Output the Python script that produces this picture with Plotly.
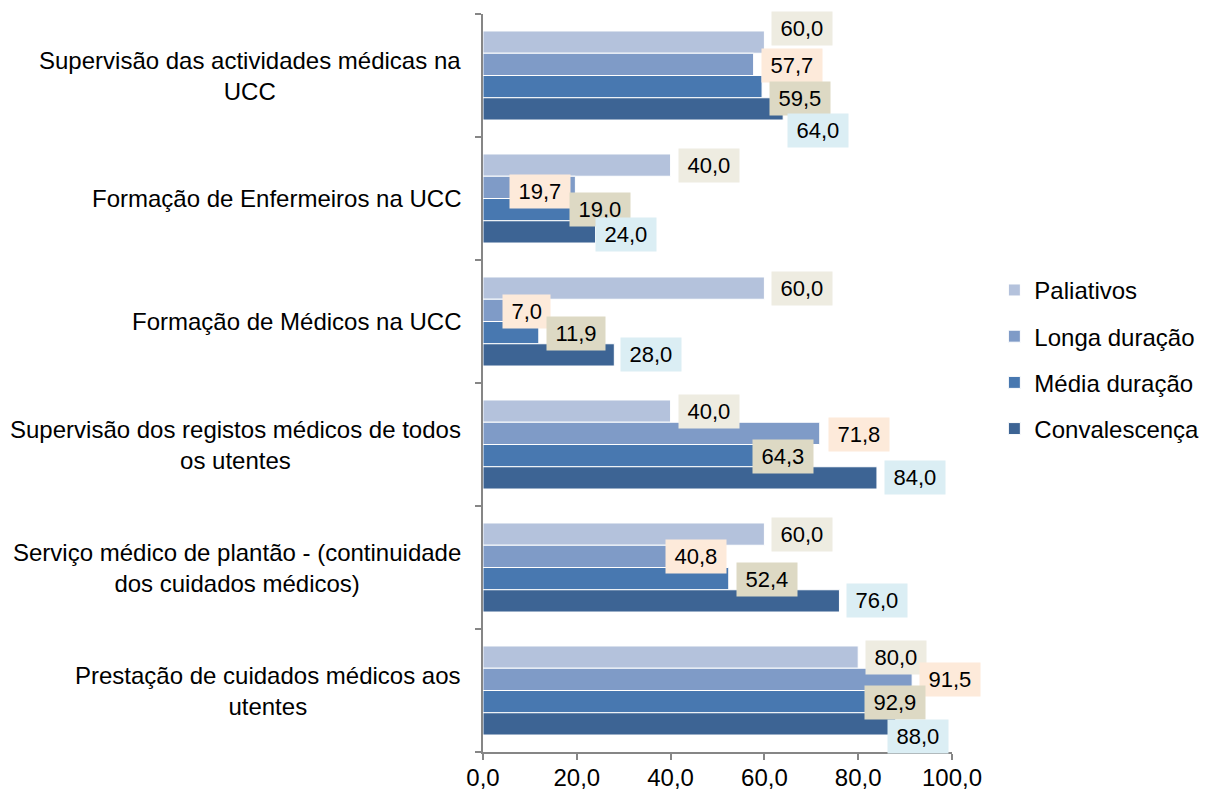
import plotly.graph_objects as go

categories = [
    "Supervisão das actividades médicas na<br>UCC",
    "Formação de Enfermeiros na UCC",
    "Formação de Médicos na UCC",
    "Supervisão dos registos médicos de todos<br>os utentes",
    "Serviço médico de plantão - (continuidade<br>dos cuidados médicos)",
    "Prestação de cuidados médicos aos<br>utentes",
]
series_names = ["Paliativos", "Longa duração", "Média duração", "Convalescença"]
paliativos = [60.0, 40.0, 60.0, 40.0, 60.0, 80.0]
longa = [57.7, 19.7, 7.0, 71.8, 40.8, 91.5]
media = [59.5, 19.0, 11.9, 64.3, 52.4, 92.9]
convalescenca = [64.0, 24.0, 28.0, 84.0, 76.0, 88.0]
x_ticks = [0, 20, 40, 60, 80, 100]
x_ticktext = ["0,0", "20,0", "40,0", "60,0", "80,0", "100,0"]

series_values = [paliativos, longa, media, convalescenca]
bar_colors = ["#B4C2DC", "#7F9BC7", "#4878B0", "#3D6494"]
label_bg = ["#EEECE1", "#FDEADA", "#DDD9C4", "#DBEEF4"]
# label offsets in px (dx: box left from bar end, dy: box centre below bar centre)
label_dx = [
    [7, 7, 7, 7, 7, 7],
    [7, -66, -14, 8, -9, 7],
    [7, -3, 7, -33, 7, -55],
    [4, -1, 6, 7, 7, -9],
]
label_dy = [
    [-14, 0, 0, 0, 0, 0],
    [1, 4, 1, 1, 0, 0],
    [12, 0, 1, 1, 1, 1],
    [22, 3, 0, 0, 0, 13],
]

FONT = "Liberation Sans, Arial, sans-serif"
FS = 24
FS_LABEL = 22
bargap = 0.276
n = len(series_names)

fig = go.Figure()
idx = list(range(len(categories)))
for j, (name, vals) in enumerate(zip(series_names, series_values)):
    fig.add_trace(go.Bar(
        y=idx, x=vals, name=name, orientation="h",
        marker=dict(color=bar_colors[j], line=dict(color="white", width=1)),
        legendgroup=name,
    ))

annotations = []
group_w = 1 - bargap
for j, vals in enumerate(series_values):
    off = -group_w / 2 + (j + 0.5) * group_w / n
    for k, v in enumerate(vals):
        annotations.append(dict(
            x=v, y=k + off, xref="x", yref="y",
            text="\u2009" + f"{v:.1f}".replace(".", ",") + "\u2009",
            showarrow=False, xanchor="left", yanchor="middle",
            xshift=label_dx[j][k], yshift=-label_dy[j][k],
            bgcolor=label_bg[j], borderpad=4,
            font=dict(family=FONT, size=FS_LABEL, color="black"),
        ))

for k, c in enumerate(categories):
    annotations.append(dict(
        x=0, y=k, xref="paper", yref="y", text=c, showarrow=False,
        xanchor="right", yanchor="middle", align="center", xshift=-20,
        font=dict(family=FONT, size=FS, color="black"),
    ))

fig.update_layout(
    width=1201, height=784,
    margin=dict(l=475, r=256, t=6, b=40),
    paper_bgcolor="white", plot_bgcolor="white",
    barmode="group", bargap=bargap, bargroupgap=0,
    font=dict(family=FONT, size=FS, color="black"),
    showlegend=True,
    legend=dict(
        x=1.088, y=0.532, xanchor="left", yanchor="middle",
        traceorder="grouped", tracegroupgap=12,
        font=dict(family=FONT, size=FS, color="black"),
        bgcolor="rgba(0,0,0,0)",
    ),
    annotations=annotations,
)
fig.update_xaxes(
    range=[0, 100], tickvals=x_ticks, ticktext=x_ticktext, automargin=False,
    showgrid=False, zeroline=False, showline=True, linecolor="#868686", linewidth=1.5,
    ticks="outside", ticklen=6, tickcolor="#868686", tickwidth=1.5,
    ticklabelstandoff=-3,
    tickfont=dict(family=FONT, size=FS, color="black"),
)
fig.update_yaxes(
    range=[len(categories) - 0.5, -0.5], tickvals=[k + 0.5 for k in range(-1, len(categories))],
    showticklabels=False, automargin=False,
    showgrid=False, zeroline=False, showline=True, linecolor="#868686", linewidth=1.5,
    ticks="outside", ticklen=6, tickcolor="#868686", tickwidth=1.5,
)

fig.write_html("out.html")
